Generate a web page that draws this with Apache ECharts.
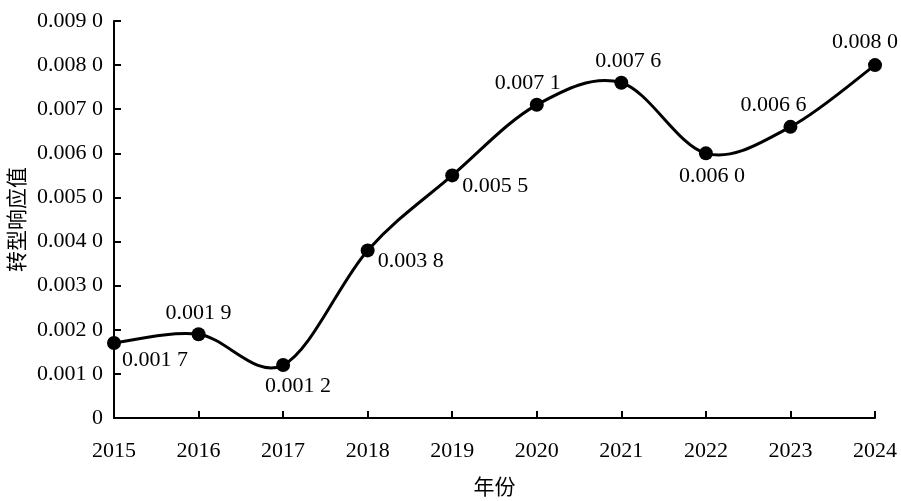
<!DOCTYPE html>
<html>
<head>
<meta charset="utf-8">
<title>转型响应值</title>
<script src="https://cdn.jsdelivr.net/npm/echarts@6/dist/echarts.min.js"></script>
<style>
  html, body { margin: 0; padding: 0; background: #fff; }
  #main { width: 901px; height: 501px; }
</style>
</head>
<body>
<div id="main"></div>
<script>
var years = ['2015', '2016', '2017', '2018', '2019', '2020', '2021', '2022', '2023', '2024'];
var values = [0.0017, 0.0019, 0.0012, 0.0038, 0.0055, 0.0071, 0.0076, 0.0060, 0.0066, 0.0080];

// label placement per point (pixels from the marker centre)
var labelOffsets = [[41, 17], [0, -21], [15, 21], [43, 11], [43, 11], [-9, -22], [7, -22], [6, 23], [-17, -22], [-10, -23]];

var serif = "'Liberation Serif', 'Times New Roman', 'Noto Sans CJK SC', serif";

// 0.0017 -> "0.001 7"
function fmt(v) {
  if (v === 0) return '0';
  var s = v.toFixed(4);
  return s.slice(0, 5) + ' ' + s.slice(5);
}

var chart = echarts.init(document.getElementById('main'));

var points = [];
var segs = [];
for (var i = 0; i < values.length; i++) {
  points.push({
    value: values[i],
    label: { offset: labelOffsets[i] }
  });
  if (i < values.length - 1) segs.push([i, values[i]]);
}

// smooth curve like a spreadsheet's smoothed line (Catmull-Rom, 1/6 handles)
function renderSegment(params, api) {
  var i = params.dataIndex;
  var n = values.length;
  var p = function (k) {
    k = Math.max(0, Math.min(n - 1, k));
    return api.coord([k, values[k]]);
  };
  var p0 = p(i - 1), p1 = p(i), p2 = p(i + 1), p3 = p(i + 2);
  return {
    type: 'bezierCurve',
    shape: {
      x1: p1[0], y1: p1[1],
      x2: p2[0], y2: p2[1],
      cpx1: p1[0] + (p2[0] - p0[0]) / 6,
      cpy1: p1[1] + (p2[1] - p0[1]) / 6,
      cpx2: p2[0] - (p3[0] - p1[0]) / 6,
      cpy2: p2[1] - (p3[1] - p1[1]) / 6
    },
    style: { stroke: '#000', lineWidth: 3, fill: null }
  };
}

var option = {
  backgroundColor: '#fff',
  animation: false,
  grid: { left: 114, right: 26, top: 21, bottom: 83, containLabel: false, outerBoundsMode: 'none' },
  xAxis: {
    type: 'category',
    data: years,
    boundaryGap: false,
    name: '年份',
    nameLocation: 'middle',
    nameGap: 60,
    nameTextStyle: { fontFamily: serif, fontSize: 21, color: '#000' },
    axisLine: { lineStyle: { color: '#000', width: 2 } },
    axisTick: { inside: true, length: 7, lineStyle: { color: '#000', width: 2 } },
    axisLabel: { fontFamily: serif, fontSize: 22, color: '#000', margin: 22 }
  },
  yAxis: {
    type: 'value',
    min: 0,
    max: 0.009,
    interval: 0.001,
    name: '转型响应值',
    nameLocation: 'middle',
    nameGap: 85,
    nameRotate: 90,
    nameMoveOverlap: false,
    nameTextStyle: { fontFamily: serif, fontSize: 21, color: '#000' },
    splitLine: { show: false },
    axisLine: { show: true, lineStyle: { color: '#000', width: 2 } },
    axisTick: { show: true, inside: true, length: 7, lineStyle: { color: '#000', width: 2 } },
    axisLabel: {
      fontFamily: serif, fontSize: 22, color: '#000', margin: 11,
      formatter: function (v) { return fmt(v); }
    }
  },
  series: [{
    type: 'custom',
    data: segs,
    renderItem: renderSegment,
    z: 1,
    silent: true
  }, {
    type: 'line',
    data: points,
    symbol: 'circle',
    symbolSize: 14,
    z: 2,
    itemStyle: { color: '#000' },
    lineStyle: { width: 0, opacity: 0 },
    label: {
      show: true,
      position: 'inside',
      fontFamily: serif,
      fontSize: 22,
      color: '#000',
      formatter: function (p) { return fmt(p.value); }
    }
  }]
};

chart.setOption(option);
</script>
</body>
</html>
